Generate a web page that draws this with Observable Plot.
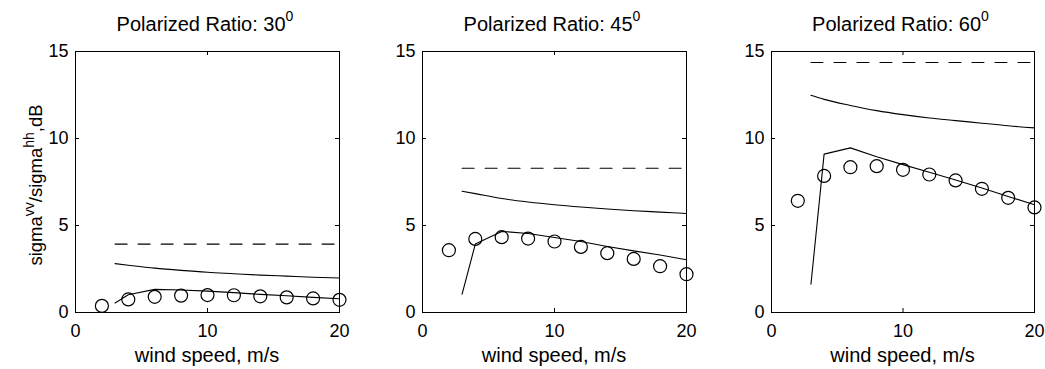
<!DOCTYPE html>
<html>
<head>
<meta charset="utf-8">
<script src="https://cdn.jsdelivr.net/npm/d3@7"></script>
<script src="https://cdn.jsdelivr.net/npm/@observablehq/plot@0.6"></script>
<style>
  html, body { margin: 0; padding: 0; background: #fff; }
  #root { position: relative; width: 1045px; height: 369px; background: #fff; overflow: hidden;
          font-family: "Liberation Sans", Arial, Helvetica, sans-serif; color: #000; }
  .panel { position: absolute; top: 0; }
  .title { position: absolute; top: 14px; font-size: 20px; line-height: 20px; white-space: nowrap; transform: translateX(-50%); }
  .title sup { font-size: 14px; position: relative; top: -2px; vertical-align: super; line-height: 0; }
  .xlabel { position: absolute; top: 345px; font-size: 20px; line-height: 20px; white-space: nowrap; transform: translateX(-50%); }
  .ylabel { position: absolute; left: 35px; top: 185px; font-size: 18.5px; line-height: 19px; white-space: nowrap;
            transform: translate(-50%, -50%) rotate(-90deg); }
  .ylabel sup { font-size: 14px; vertical-align: super; line-height: 0; }
</style>
</head>
<body>
<div id="root"></div>
<script>
// ---- data ----
const angles = ["30", "45", "60"];
const windMeasured = [2, 4, 6, 8, 10, 12, 14, 16, 18, 20];
const windModel = [3, 4, 6, 8, 10, 12, 14, 16, 18, 20];
const windFlat = [3, 20];

const measured30 = [0.38, 0.75, 0.90, 0.97, 1.00, 0.99, 0.93, 0.87, 0.81, 0.73];
const lower30    = [0.55, 1.02, 1.33, 1.29, 1.23, 1.14, 1.04, 0.96, 0.87, 0.79];
const upper30    = [2.81, 2.72, 2.55, 2.42, 2.31, 2.23, 2.15, 2.09, 2.03, 1.98];
const flat30 = 3.93;

const measured45 = [3.58, 4.23, 4.33, 4.25, 4.08, 3.77, 3.41, 3.08, 2.66, 2.20];
const lower45    = [1.05, 3.93, 4.66, 4.54, 4.31, 4.08, 3.79, 3.54, 3.30, 3.03];
const upper45    = [6.97, 6.83, 6.55, 6.35, 6.19, 6.06, 5.95, 5.85, 5.77, 5.69];
const flat45 = 8.29;

const measured60 = [6.42, 7.85, 8.35, 8.41, 8.20, 7.93, 7.59, 7.11, 6.59, 6.04];
const lower60    = [1.62, 9.10, 9.46, 8.95, 8.50, 8.06, 7.62, 7.15, 6.67, 6.19];
const upper60    = [12.48, 12.25, 11.90, 11.60, 11.37, 11.18, 11.03, 10.88, 10.73, 10.61];
const flat60 = 14.37;

const xTicks = [0, 10, 20];
const yTicks = [0, 5, 10, 15];
const xLabel = "wind speed, m/s";
const titlePrefix = "Polarized Ratio: ";

const series = [
  {measured: measured30, lower: lower30, upper: upper30, flat: flat30},
  {measured: measured45, lower: lower45, upper: upper45, flat: flat45},
  {measured: measured60, lower: lower60, upper: upper60, flat: flat60}
];

// ---- layout ----
const frameLefts = [75, 422, 771];
const frameWidths = [264, 264, 263];
const mL = 50, mR = 10, mT = 51, mB = 57, H = 369;
const innerH = H - mT - mB;

const root = document.getElementById("root");

series.forEach((s, i) => {
  const fw = frameWidths[i];
  const measured = windMeasured.map((x, j) => ({x, y: s.measured[j]}));
  const lower = windModel.map((x, j) => ({x, y: s.lower[j]}));
  const upper = windModel.map((x, j) => ({x, y: s.upper[j]}));
  const flat = windFlat.map(x => ({x, y: s.flat}));

  const chart = Plot.plot({
    width: mL + fw + mR,
    height: H,
    marginLeft: mL, marginRight: mR, marginTop: mT, marginBottom: mB,
    style: {fontFamily: '"Liberation Sans", Arial, Helvetica, sans-serif', fontSize: "18px", color: "#000", background: "#fff", overflow: "visible"},
    x: {domain: [0, 20], label: null},
    y: {domain: [0, 15], label: null},
    marks: [
      Plot.frame({stroke: "#000", strokeWidth: 1}),
      Plot.tickX(xTicks, {x: d => d, insetTop: innerH - 4, stroke: "#000"}),
      Plot.tickX(xTicks, {x: d => d, insetBottom: innerH - 4, stroke: "#000"}),
      Plot.tickY(yTicks, {y: d => d, insetRight: fw - 4, stroke: "#000"}),
      Plot.tickY(yTicks, {y: d => d, insetLeft: fw - 4, stroke: "#000"}),
      Plot.axisX({ticks: xTicks, tickSize: 0, tickPadding: 12, label: null, fontSize: 18}),
      Plot.axisY({ticks: yTicks, tickSize: 0, tickPadding: 7, label: null, fontSize: 18}),
      Plot.line(flat, {x: "x", y: "y", stroke: "#000", strokeWidth: 1.1, strokeDasharray: "12,11"}),
      Plot.line(upper, {x: "x", y: "y", stroke: "#000", strokeWidth: 1.1, curve: "monotone-x"}),
      Plot.line(lower, {x: "x", y: "y", stroke: "#000", strokeWidth: 1.1}),
      Plot.dot(measured, {x: "x", y: "y", r: 6.5, stroke: "#000", strokeWidth: 1.2, fill: "none"})
    ]
  });

  const wrap = document.createElement("div");
  wrap.className = "panel";
  wrap.style.left = (frameLefts[i] - mL) + "px";
  wrap.appendChild(chart);
  root.appendChild(wrap);

  const cx = frameLefts[i] + fw / 2;
  const t = document.createElement("div");
  t.className = "title";
  t.style.left = (cx - 2) + "px";
  t.innerHTML = titlePrefix + angles[i] + "<sup>0</sup>";
  root.appendChild(t);

  const xl = document.createElement("div");
  xl.className = "xlabel";
  xl.style.left = cx + "px";
  xl.textContent = xLabel;
  root.appendChild(xl);
});

const yl = document.createElement("div");
yl.className = "ylabel";
yl.innerHTML = "sigma<sup>vv</sup>/sigma<sup>hh</sup>,dB";
root.appendChild(yl);
</script>
</body>
</html>
